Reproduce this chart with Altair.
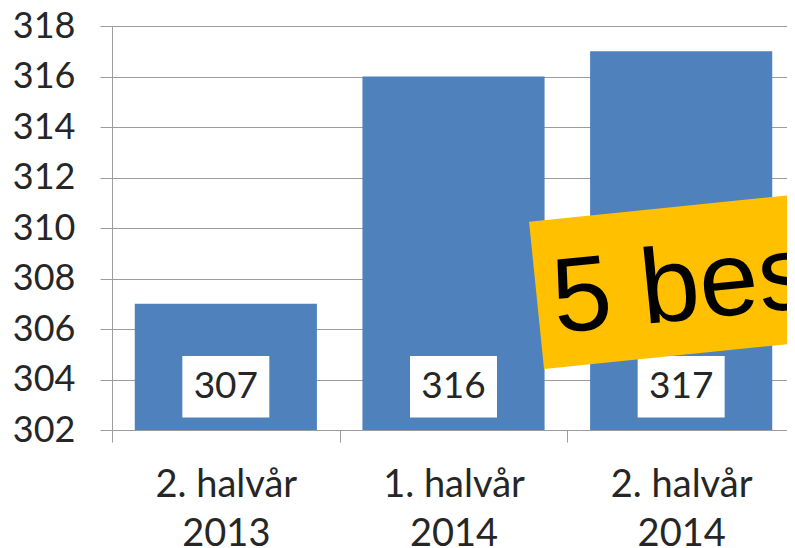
import altair as alt
import pandas as pd

categories = ["2. halvår|2013", "1. halvår|2014", "2. halvår|2014"]
values = [307, 316, 317]
y_ticks = [302, 304, 306, 308, 310, 312, 314, 316, 318]
note_text = ["5 bes"]

df = pd.DataFrame({"period": categories, "value": values})
note_df = pd.DataFrame({"t": note_text})

GRID = "#9c9c9c"
TXT = "#262626"
BLUE = "#4F81BD"

x = alt.X(
    "period:N", sort=categories, title=None,
    scale=alt.Scale(paddingInner=0, paddingOuter=0),
    axis=alt.Axis(
        labelAngle=0, labelExpr="split(datum.label, '|')", tickBand="extent",
        grid=False, domainColor=GRID, tickColor=GRID, tickSize=12,
        labelFont="Lato", labelFontSize=38, labelLineHeight=49,
        labelPadding=24, labelColor=TXT, labelBaseline="top",
    ),
)
y = alt.Y(
    "value:Q", title=None,
    scale=alt.Scale(domain=[302, 318], nice=False, zero=False),
    axis=alt.Axis(
        values=y_ticks, grid=True, gridColor=GRID, domainColor=GRID,
        tickColor=GRID, tickSize=12, labelFont="Lato", labelFontSize=36,
        labelPadding=25, labelColor=TXT,
    ),
)

base = alt.Chart(df)
bars = base.mark_bar(color=BLUE, width=alt.RelativeBandSize(0.8)).encode(
    x=x, y=y, y2=alt.Y2(datum=302)
)
boxes = base.mark_bar(width=87, color="white").encode(
    x=x, y=alt.Y(datum=302.5), y2=alt.Y2(datum=304.93)
)
labels = base.mark_text(font="Lato", fontSize=37, color=TXT, baseline="middle").encode(
    x=x, y=alt.Y(datum=303.72), text="value:Q"
)

rect_path = "M-1,-0.2467 L1,-0.2467 L1,0.2467 L-1,0.2467 Z"
note_box = alt.Chart(note_df).mark_point(
    shape=rect_path, size=360000, angle=354.2, filled=True,
    color="#FFC000", opacity=1, strokeWidth=0,
).encode(x=alt.value(723), y=alt.value(239))
note = alt.Chart(note_df).mark_text(
    angle=354.2, align="left", baseline="alphabetic",
    font="Liberation Sans", fontSize=106, color="black",
).encode(x=alt.value(444), y=alt.value(307), text="t:N")

chart = (
    alt.layer(bars, boxes, labels, note_box, note)
    .properties(
        width=683, height=404,
        autosize=alt.AutoSizeParams(type="none"),
        padding={"left": 104, "top": 18, "right": -8, "bottom": 130},
    )
    .configure_view(stroke=None)
)

chart.save("out.html", embed_options={"renderer": "svg", "actions": False})
